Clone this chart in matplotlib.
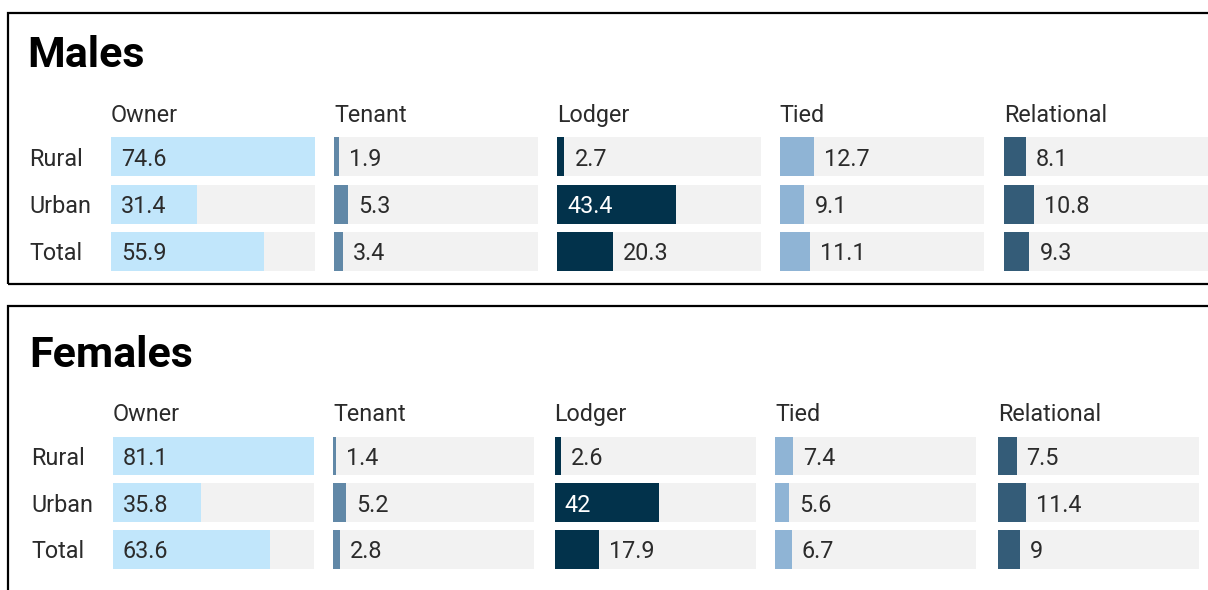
import matplotlib.pyplot as plt
from matplotlib.patches import Rectangle
from matplotlib.colors import to_rgb

plt.rcParams['font.family'] = ['Roboto', 'DejaVu Sans']

# data
tenures = ['Owner', 'Tenant', 'Lodger', 'Tied', 'Relational']
areas = ['Rural', 'Urban', 'Total']
males = {
    'Owner': [74.6, 31.4, 55.9],
    'Tenant': [1.9, 5.3, 3.4],
    'Lodger': [2.7, 43.4, 20.3],
    'Tied': [12.7, 9.1, 11.1],
    'Relational': [8.1, 10.8, 9.3],
}
females = {
    'Owner': [81.1, 35.8, 63.6],
    'Tenant': [1.4, 5.2, 2.8],
    'Lodger': [2.6, 42, 17.9],
    'Tied': [7.4, 5.6, 6.7],
    'Relational': [7.5, 11.4, 9],
}

colors = {
    'Owner': '#c1e6fb',
    'Tenant': '#6188a7',
    'Lodger': '#02324b',
    'Tied': '#8fb4d5',
    'Relational': '#345c78',
}
BG = '#f2f2f2'
TXT = '#2b2b2b'
FS = 16.8

W, H = 1208, 590
fig = plt.figure(figsize=(W / 100, H / 100), dpi=100)


def fx(px):
    return px / W


def fy(py):
    return 1 - py / H


def panel(title, data, box, title_xy, label_x, col_lefts, col_w, rows_top, pitch, bar_h, head_base):
    x0, y0, x1, y1 = box
    fig.add_artist(Rectangle((fx(x0), fy(y1)), fx(x1 - x0), (y1 - y0) / H,
                             transform=fig.transFigure, fill=False,
                             edgecolor='black', lw=1.6, clip_on=False))
    fig.text(fx(title_xy[0]), fy(title_xy[1]), title, fontsize=31,
             fontweight='bold', va='baseline', ha='left', color='black')
    vmax = max(max(v) for v in data.values())
    span = 2 * pitch + bar_h
    for i, name in enumerate(tenures):
        ax = fig.add_axes([fx(col_lefts[i]), fy(rows_top + span), fx(col_w), span / H])
        vals = data[name]
        ypos = range(len(areas))
        h = bar_h / pitch
        ax.barh(ypos, [vmax] * len(vals), height=h, color=BG)
        ax.barh(ypos, vals, height=h, color=colors[name])
        ax.set_xlim(0, vmax)
        ax.set_ylim(2 + 0.5 * h, -0.5 * h)
        ax.axis('off')
        ax.text(0, 1 + (rows_top - head_base) / span, name, transform=ax.transAxes,
                fontsize=FS, va='baseline', ha='left', color=TXT)
        lum = sum(c * w for c, w in zip(to_rgb(colors[name]), (0.3, 0.59, 0.11)))
        for j, v in enumerate(vals):
            if v / vmax > 0.35:
                ax.annotate(f'{v:g}', (0, j), xytext=(7.2, 0), textcoords='offset points',
                            fontsize=FS, va='center_baseline', ha='left',
                            color='white' if lum < 0.5 else TXT)
            else:
                ax.annotate(f'{v:g}', (v, j), xytext=(7.2, 0), textcoords='offset points',
                            fontsize=FS, va='center_baseline', ha='left', color=TXT)
        if i == 0:
            for j, a in enumerate(areas):
                ax.text((label_x - col_lefts[0]) / col_w, j, a, transform=ax.get_yaxis_transform(),
                        fontsize=FS, va='center_baseline', ha='left', color=TXT)


panel('Males', males, (8, 13, 1230, 284), (27, 67), 29,
      [111, 334, 557, 779.5, 1004], 204, 137, 47.5, 39, 122)
panel('Females', females, (8, 306, 1230, 620), (29, 367), 31,
      [112.5, 333, 554.5, 775, 998], 201, 436.7, 46.7, 38.5, 421)

fig.savefig('out.png', dpi=100)
